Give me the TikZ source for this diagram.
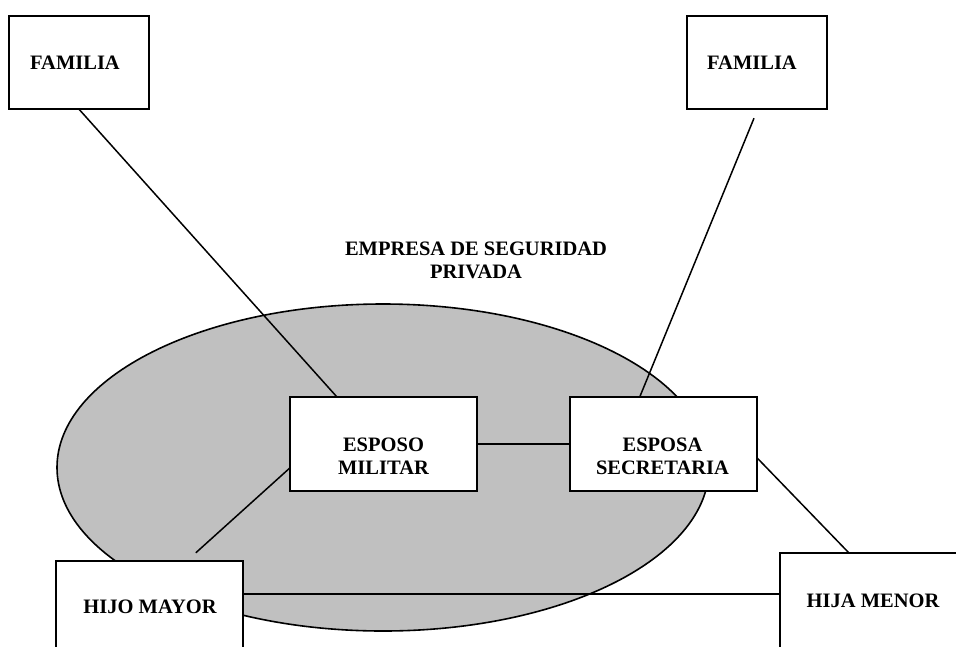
\documentclass[tikz,border=0pt]{standalone}
\usepackage{fontspec}
\setmainfont{Liberation Serif}
\usetikzlibrary{calc,shapes.geometric}
\definecolor{orgfill}{HTML}{C0C0C0}
\tikzset{
  x=1pt, y=-1pt,
  boxnode/.style={rectangle, inner sep=0pt},
  lbl/.style={font=\fontsize{20.5}{23.5}\selectfont\bfseries, align=center, inner sep=0pt, anchor=base},
  link/.style={draw=black, line width=1.5pt}
}
\begin{document}
\begin{tikzpicture}
\useasboundingbox (0,0) rectangle (956,646);
\clip (0,0) rectangle (956,646);
\fill[white] (0,0) rectangle (956,646);

% the company, drawn as a shaded ellipse
\node[draw=black, line width=1.6pt, fill=orgfill, ellipse, minimum width=652pt, minimum height=327pt, inner sep=0pt] (empresa) at (383,467.5) {};
% base anchor sits on the last line
\node[lbl] (tEmpresa) at (476,278.7) {EMPRESA DE SEGURIDAD\\PRIVADA};

% box outlines as empty nodes
\node[boxnode, minimum width=140pt, minimum height=93pt] (famL) at (79,62.5) {};
\node[boxnode, minimum width=140pt, minimum height=93pt] (famR) at (757,62.5) {};
\node[boxnode, minimum width=187pt, minimum height=94pt] (esposo) at (383.5,444) {};
\node[boxnode, minimum width=187pt, minimum height=94pt] (esposa) at (663.5,444) {};
\node[boxnode, minimum width=187pt, minimum height=95pt] (hijo) at (149.5,608.5) {};
\node[boxnode, minimum width=187pt, minimum height=95pt] (hija) at (873.5,600.5) {};

\coordinate (famRend) at ($(famR.south)+(-3,9)$);
\coordinate (hijoEnd) at ($(hijo.north west)+(140,-8)$);

% connectors first, so the boxes cover their ends
\draw[link] (famL.south) -- ($(esposo.north west)+(47,0)$);
\draw[link] (famRend) -- ($(esposa.north west)+(70,0)$);
\draw[link] (esposo.east) -- (esposa.west);
\draw[link] ($(esposo.west)+(0,24)$) -- (hijoEnd);
\draw[link] ($(hijo.east)+(0,-14.5)$) coordinate (hh) -- (hh -| hija.west);
\draw[link] ($(esposa.east)+(0,14)$) -- ($(hija.north west)+(69,0)$);

% visible boxes
\foreach \n in {famL,famR,esposo,esposa,hijo,hija}{
  \draw[line width=1.6pt, fill=white] (\n.north west) rectangle (\n.south east);
}

% labels
\node[lbl] (tFamL) at (75,69.7) {FAMILIA};
\node[lbl] (tFamR) at (752,69.7) {FAMILIA};
\node[lbl] (tEsposo) at (383.5,474.7) {ESPOSO\\MILITAR};
\node[lbl] (tEsposa) at (662.5,474.7) {ESPOSA\\SECRETARIA};
\node[lbl] (tHijo) at (150,613.7) {HIJO MAYOR};
\node[lbl] (tHija) at (873,607.7) {HIJA MENOR};
\end{tikzpicture}
\end{document}
